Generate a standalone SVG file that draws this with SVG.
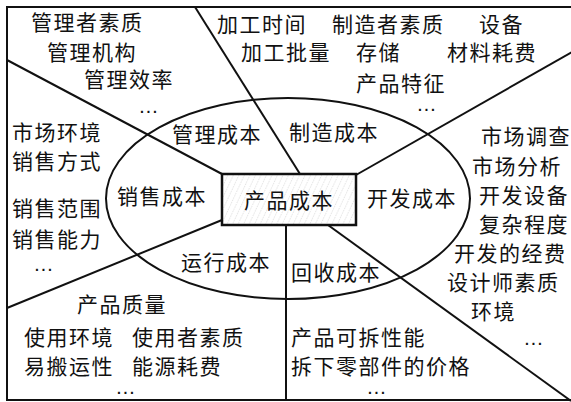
<svg xmlns="http://www.w3.org/2000/svg" width="571" height="402" viewBox="0 0 571 402">
<defs>
<pattern id="hatch" width="5" height="5" patternUnits="userSpaceOnUse" patternTransform="rotate(25)">
<line x1="0" y1="0" x2="0" y2="5" stroke="#bbb" stroke-width="0.8" stroke-dasharray="1.5 1"/>
</pattern>
<style>
.t{font-family:"Noto Sans CJK SC","Noto Sans",sans-serif;font-size:21px;letter-spacing:1.5px;fill:#111}
.d{font-family:"Liberation Sans",sans-serif;font-size:14px;font-weight:bold;letter-spacing:2.6px;fill:#111}
.ln{stroke:#111;stroke-width:2;fill:none}
</style>
</defs>
<rect x="0" y="0" width="571" height="402" fill="#fff"/>
<g id="frame"><rect x="7" y="7" width="580" height="393" class="ln"/></g>
<g id="connectors">
<line x1="7" y1="60" x2="222" y2="174" class="ln"/>
<line x1="195" y1="7" x2="300" y2="174" class="ln"/>
<line x1="356" y1="175" x2="572" y2="52" class="ln"/>
<line x1="222" y1="220" x2="7" y2="308" class="ln"/>
<line x1="286" y1="225" x2="286" y2="400" class="ln"/>
<line x1="328" y1="225" x2="571" y2="401" class="ln"/>
</g>
<g id="ellipse"><ellipse cx="288" cy="198.5" rx="182" ry="100.5" class="ln"/></g>
<g id="core">
<rect x="222" y="174" width="134" height="51" fill="#fff"/>
<rect x="222" y="174" width="134" height="51" fill="url(#hatch)" stroke="#111" stroke-width="2.5"/>
<text class="t" x="244" y="208">产品成本</text>
</g>
<g id="mgmt">
<text class="t" x="172" y="142">管理成本</text>
<text class="t" x="31" y="30">管理者素质</text>
<text class="t" x="47" y="60">管理机构</text>
<text class="t" x="84" y="87">管理效率</text>
<text class="d" x="140" y="113">...</text>
</g>
<g id="manuf">
<text class="t" x="289" y="140">制造成本</text>
<text class="t" x="217" y="32">加工时间</text>
<text class="t" x="332" y="32">制造者素质</text>
<text class="t" x="479" y="32">设备</text>
<text class="t" x="241" y="60">加工批量</text>
<text class="t" x="356" y="60">存储</text>
<text class="t" x="447" y="60">材料耗费</text>
<text class="t" x="356" y="91">产品特征</text>
<text class="d" x="418" y="111">...</text>
</g>
<g id="sales">
<text class="t" x="117" y="204">销售成本</text>
<text class="t" x="12" y="140">市场环境</text>
<text class="t" x="12" y="169">销售方式</text>
<text class="t" x="12" y="216">销售范围</text>
<text class="t" x="12" y="247">销售能力</text>
<text class="d" x="35" y="271">...</text>
</g>
<g id="dev">
<text class="t" x="367" y="206">开发成本</text>
<text class="t" x="481" y="144">市场调查</text>
<text class="t" x="472" y="174">市场分析</text>
<text class="t" x="479" y="203">开发设备</text>
<text class="t" x="479" y="232">复杂程度</text>
<text class="t" x="454" y="261">开发的经费</text>
<text class="t" x="447" y="290">设计师素质</text>
<text class="t" x="471" y="319">环境</text>
<text class="d" x="525" y="345">...</text>
</g>
<g id="oper">
<text class="t" x="181" y="270">运行成本</text>
<text class="t" x="77" y="312">产品质量</text>
<text class="t" x="24" y="345">使用环境</text>
<text class="t" x="132" y="345">使用者素质</text>
<text class="t" x="24" y="374">易搬运性</text>
<text class="t" x="132" y="374">能源耗费</text>
<text class="d" x="117" y="394">...</text>
</g>
<g id="recycle">
<text class="t" x="291" y="280">回收成本</text>
<text class="t" x="291" y="345">产品可拆性能</text>
<text class="t" x="291" y="374">拆下零部件的价格</text>
<text class="d" x="368" y="394">...</text>
</g>
</svg>
